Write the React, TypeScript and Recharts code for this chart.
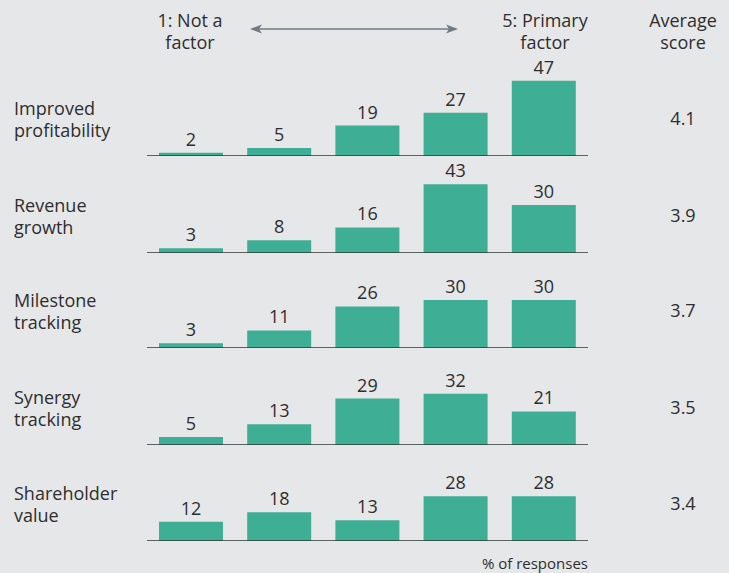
import React from "react"
import { BarChart, Bar, XAxis, YAxis, LabelList, ReferenceLine } from "recharts"

const levels = ["1", "2", "3", "4", "5"]
const factors = [
  ["Improved", "profitability"],
  ["Revenue", "growth"],
  ["Milestone", "tracking"],
  ["Synergy", "tracking"],
  ["Shareholder", "value"],
]
const improvedProfitability = [2, 5, 19, 27, 47]
const revenueGrowth = [3, 8, 16, 43, 30]
const milestoneTracking = [3, 11, 26, 30, 30]
const synergyTracking = [5, 13, 29, 32, 21]
const shareholderValue = [12, 18, 13, 28, 28]
const averageScores = ["4.1", "3.9", "3.7", "3.5", "3.4"]

const series = [improvedProfitability, revenueGrowth, milestoneTracking, synergyTracking, shareholderValue]

const BG = "#e6e7e9"
const TEAL = "#3eae94"
const TEXT = "#2e2e2e"
const FONT = "'Open Sans', sans-serif"

// baseline y of each row in the page
const baselines = [156, 253, 348, 445, 541]
const CHART_H = 110

function Row({ values, baseline }: { values: number[]; baseline: number }) {
  const data = levels.map((level, i) => ({ level, value: values[i] }))
  return (
    <div style={{ position: "absolute", left: 0, top: baseline - CHART_H }}>
      <BarChart width={729} height={CHART_H} data={data} margin={{ top: 30, right: 141, bottom: 0, left: 147 }}>
        <XAxis dataKey="level" hide />
        <YAxis hide domain={[0, 50]} />
        <Bar dataKey="value" fill={TEAL} barSize={64} isAnimationActive={false}>
          <LabelList dataKey="value" position="top" offset={7} fill={TEXT} fontSize={18} fontFamily={FONT} />
        </Bar>
        <ReferenceLine y={0} stroke="#333" strokeWidth={1.5} />
      </BarChart>
    </div>
  )
}

const txt: React.CSSProperties = {
  position: "absolute",
  fontFamily: FONT,
  fontSize: 18,
  lineHeight: "22px",
  color: TEXT,
}

export default function App() {
  return (
    <div style={{ position: "absolute", left: 0, top: 0, width: 729, height: 573, background: BG, overflow: "hidden" }}>
      <div style={{ ...txt, left: 130, top: 9, width: 120, textAlign: "center" }}>1: Not a<br />factor</div>
      <div style={{ ...txt, left: 485, top: 9, width: 120, textAlign: "center" }}>5: Primary<br />factor</div>
      <div style={{ ...txt, left: 623, top: 9, width: 120, textAlign: "center" }}>Average<br />score</div>
      <svg style={{ position: "absolute", left: 0, top: 0 }} width={729} height={60}>
        <line x1={252} y1={29} x2={456} y2={29} stroke="#6f7b85" strokeWidth={1.5} />
        <path d="M250,29 L262,24.5 L259,29 L262,33.5 Z" fill="#6f7b85" />
        <path d="M458,29 L446,24.5 L449,29 L446,33.5 Z" fill="#6f7b85" />
      </svg>
      {series.map((values, i) => (
        <Row key={i} values={values} baseline={baselines[i]} />
      ))}
      {factors.map((lines, i) => (
        <div key={i} style={{ ...txt, left: 14, top: baselines[i] - 59 }}>
          {lines[0]}<br />{lines[1]}
        </div>
      ))}
      {averageScores.map((s, i) => (
        <div key={i} style={{ ...txt, left: 623, width: 120, textAlign: "center", top: baselines[i] - 49 }}>
          {s}
        </div>
      ))}
      <div style={{ ...txt, fontSize: 15, left: 388, width: 200, textAlign: "right", top: 552 }}>% of responses</div>
    </div>
  )
}
